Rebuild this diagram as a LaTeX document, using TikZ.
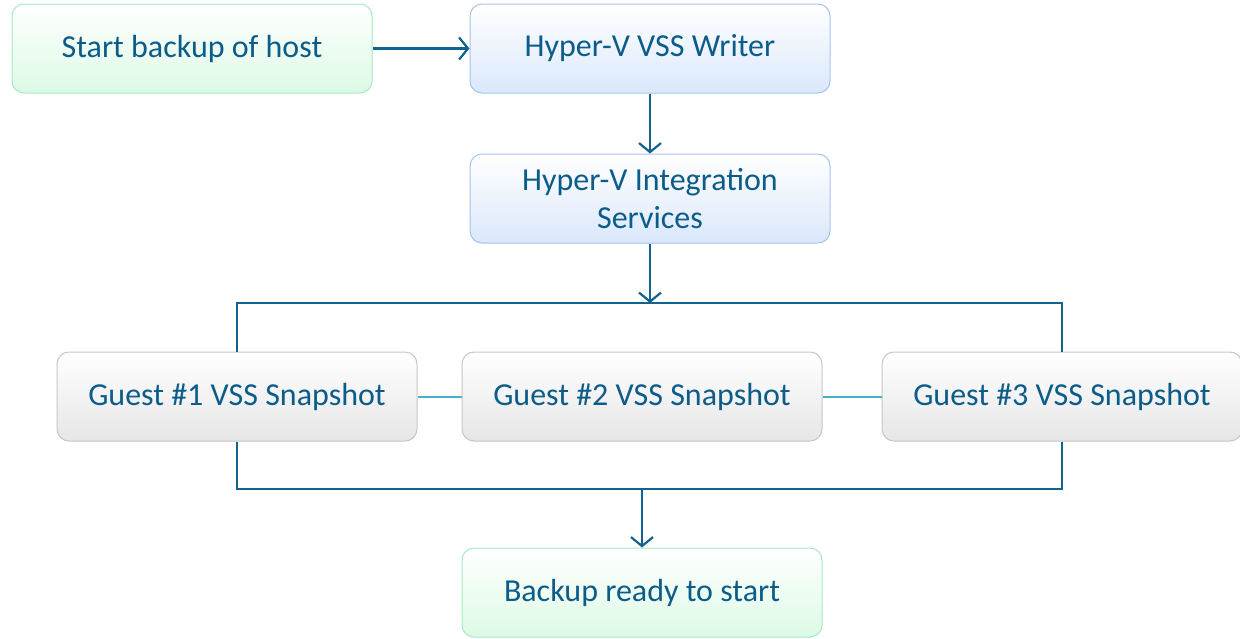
\documentclass[tikz,border=0pt]{standalone}
\usepackage{fontspec}
\setmainfont{Carlito}
\usetikzlibrary{arrows.meta}
\definecolor{linie}{HTML}{11628F}
\definecolor{schrift}{HTML}{0C5C8A}
\definecolor{quer}{HTML}{4AAFC8}
\definecolor{gruenrand}{HTML}{A6EBC2}
\definecolor{gruenfuell}{HTML}{DCFAE5}
\definecolor{blaurand}{HTML}{A6C2EE}
\definecolor{blaufuell}{HTML}{DAE8FB}
\definecolor{graurand}{HTML}{C6C6C6}
\definecolor{graufuell}{HTML}{E6E6E6}

\begin{document}
\begin{tikzpicture}[x=1pt,y=-1pt,
	>={Straight Barb[length=9pt,width=22pt,line width=2.2pt]},
	kasten/.style={rounded corners=12pt,minimum width=360pt,minimum height=89pt,
		inner sep=0pt,align=center,text=schrift,font=\fontsize{32}{38}\selectfont,line width=1pt},
	gruen/.style={kasten,draw=gruenrand,top color=white,bottom color=gruenfuell},
	blau/.style={kasten,draw=blaurand,top color=white,bottom color=blaufuell},
	grau/.style={kasten,draw=graurand,top color=white,bottom color=graufuell},
	fluss/.style={draw=linie,line width=2.4pt},
	band/.style={draw=quer,line width=2pt}]
\useasboundingbox (0,0) rectangle (1240,638);

\node[gruen] (start) at (192,48.5) {Start backup of host};
\node[blau] (writer) at (650,48.5) {Hyper-V VSS Writer};
\node[blau] (integ) at (650,198.5) {Hyper-V Integration\\Services};
\node[grau] (gast1) at (237,396.5) {Guest \#1 VSS Snapshot};
\node[grau] (gast2) at (642,396.5) {Guest \#2 VSS Snapshot};
\node[grau] (gast3) at (1062,396.5) {Guest \#3 VSS Snapshot};
\node[gruen] (fertig) at (642,592.5) {Backup ready to start};

\coordinate (oben) at (650,303);
\coordinate (unten) at (642,489);

\draw[band] (gast1) -- (gast2);
\draw[band] (gast2) -- (gast3);

\draw[fluss,->] (start) -- (writer);
\draw[fluss,->] (writer) -- (integ);
\draw[fluss,->] (integ) -- (oben);
\draw[fluss] (gast1.north) |- (oben) -| (gast3.north);
\draw[fluss] (gast1.south) |- (unten) -| (gast3.south);
\draw[fluss,->] (unten) -- (fertig);
\end{tikzpicture}
\end{document}
